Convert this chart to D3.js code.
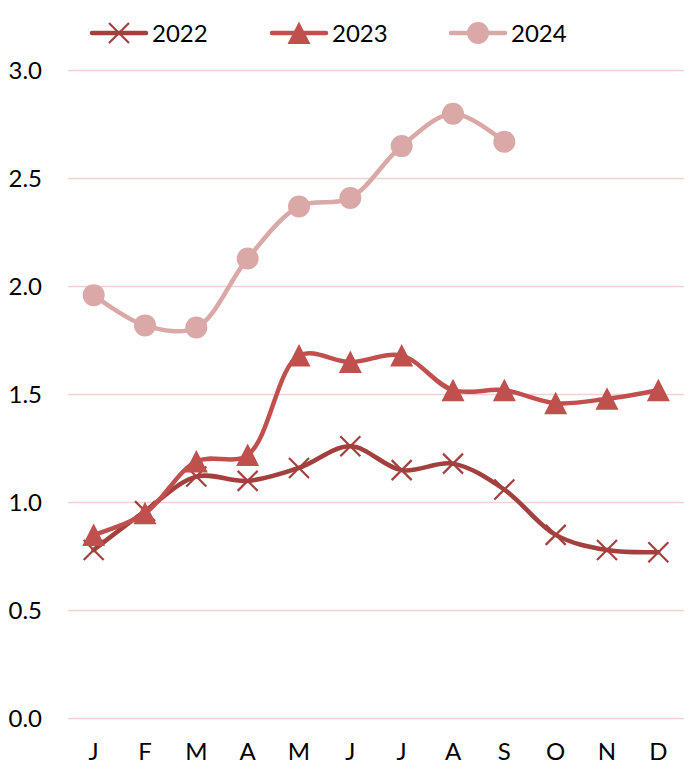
<!DOCTYPE html>
<html lang="en">
  <head>
    <meta charset="UTF-8" />
    <title>Monthly values 2022-2024</title>
    <script src="https://d3js.org/d3.v7.min.js"></script>
    <style>
      body {
        margin: 0;
        background: #fff;
      }
      text {
        font-family: Lato, 'Liberation Sans', sans-serif;
        fill: #000;
      }
    </style>
  </head>
  <body>
    <svg width="692" height="764"></svg>
    <script>
      // months and values
      const months = ['J', 'F', 'M', 'A', 'M', 'J', 'J', 'A', 'S', 'O', 'N', 'D'];
      const yTicks = [0, 0.5, 1, 1.5, 2, 2.5, 3];

      const values2022 = [0.78, 0.96, 1.12, 1.1, 1.16, 1.26, 1.15, 1.18, 1.06, 0.85, 0.78, 0.77];
      const values2023 = [0.85, 0.95, 1.19, 1.22, 1.68, 1.65, 1.68, 1.52, 1.52, 1.46, 1.48, 1.52];
      const values2024 = [1.96, 1.82, 1.81, 2.13, 2.37, 2.41, 2.65, 2.8, 2.67];

      const series = [
        { name: '2022', values: values2022, color: '#A3403E', marker: 'cross' },
        { name: '2023', values: values2023, color: '#C0504D', marker: 'triangle' },
        { name: '2024', values: values2024, color: '#D9A8A7', marker: 'circle' },
      ];

      const svg = d3.select('svg');

      const x = d3
        .scaleBand()
        .domain(d3.range(months.length))
        .range([68, 684]);

      const y = d3.scaleLinear().domain([0, 3]).range([718.5, 70.5]);

      const cx = (i) => x(i) + x.bandwidth() / 2;

      // gridlines
      svg
        .append('g')
        .selectAll('line')
        .data(yTicks)
        .join('line')
        .attr('x1', 68)
        .attr('x2', 684)
        .attr('y1', (d) => y(d))
        .attr('y2', (d) => y(d))
        .attr('stroke', '#F0D2D2')
        .attr('stroke-width', 1.5);

      // y labels
      svg
        .append('g')
        .selectAll('text')
        .data(yTicks)
        .join('text')
        .attr('x', 42)
        .attr('y', (d) => y(d) + 8.5)
        .attr('text-anchor', 'end')
        .attr('font-size', 24)
        .text((d) => d3.format('.1f')(d));

      // x labels
      svg
        .append('g')
        .selectAll('text')
        .data(months)
        .join('text')
        .attr('x', (d, i) => cx(i))
        .attr('y', 760)
        .attr('text-anchor', 'middle')
        .attr('font-size', 24)
        .text((d) => d);

      function drawMarker(g, type, color) {
        if (type === 'cross') {
          g.append('path')
            .attr('d', 'M-10,-10L10,10M-10,10L10,-10')
            .attr('stroke', color)
            .attr('stroke-width', 2.2)
            .attr('fill', 'none');
        } else if (type === 'triangle') {
          g.append('path')
            .attr('d', 'M0,-11.5L11.5,11L-11.5,11Z')
            .attr('fill', color);
        } else {
          g.append('circle').attr('r', 11).attr('fill', color);
        }
      }

      const line = d3
        .line()
        .x((d, i) => cx(i))
        .y((d) => y(d))
        .curve(d3.curveCatmullRom.alpha(0.5));

      series.forEach((s) => {
        const g = svg.append('g');
        g.append('path')
          .attr('d', line(s.values))
          .attr('fill', 'none')
          .attr('stroke', s.color)
          .attr('stroke-width', 4.5)
          .attr('stroke-linecap', 'round');

        s.values.forEach((v, i) => {
          const m = g.append('g').attr('transform', `translate(${cx(i)},${y(v)})`);
          drawMarker(m, s.marker, s.color);
        });
      });

      // legend
      const legendX = [92, 272, 451];
      series.forEach((s, k) => {
        const g = svg.append('g').attr('transform', `translate(${legendX[k]},33)`);
        g.append('line')
          .attr('x1', 0)
          .attr('x2', 54)
          .attr('stroke', s.color)
          .attr('stroke-width', 4.5)
          .attr('stroke-linecap', 'round');
        const m = g.append('g').attr('transform', 'translate(27,0)');
        drawMarker(m, s.marker, s.color);
        g.append('text')
          .attr('x', 60)
          .attr('y', 8.5)
          .attr('font-size', 24)
          .text(s.name);
      });
    </script>
  </body>
</html>
